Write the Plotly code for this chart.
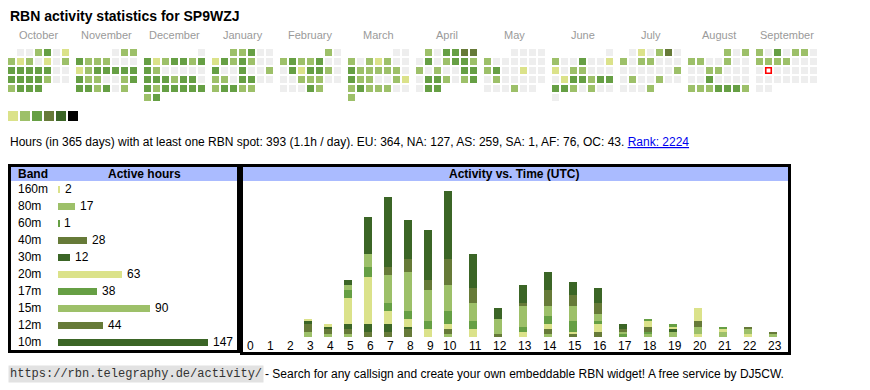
import datetime as dt
import plotly.graph_objects as go

W, H = 870, 390
FONT = "Liberation Sans, Arial, sans-serif"

# ---------------- data ----------------
TITLE = "RBN activity statistics for SP9WZJ"

MONTH_NAMES = ["October", "November", "December", "January", "February", "March",
               "April", "May", "June", "July", "August", "September"]
MONTH_YM = [(2024, 10), (2024, 11), (2024, 12), (2025, 1), (2025, 2), (2025, 3),
            (2025, 4), (2025, 5), (2025, 6), (2025, 7), (2025, 8), (2025, 9)]
# activity level per day (0 = none, 1..5 = palette level), day 1 .. last day
DAY_LEVELS = [
    "0023012120102333330033332002333",   # Oct
    "022322200012333333220023332302",    # Nov
    "0312332332000003332330323333323",   # Dec
    "2230013232003003002220330023322",   # Jan
    "2023223000313320002220000032",      # Feb
    "0020212003222220322002123222002",   # Mar
    "203344030233220200330332023033",    # Apr
    "0000200000023001000200000000200",   # May
    "020030011022000013323333202000",    # Jun
    "0102402022000000000202002000002",   # Jul
    "2022200200002200000300002223332",   # Aug
    "203022022220000000000000000000",    # Sep
]
TODAY = dt.date(2025, 9, 16)
LEVEL_COLORS = ["#eeeeee", "#dbe28a", "#9dc069", "#669f44", "#667a38", "#3b6526", "#000000"]

SUMMARY = ("Hours (in 365 days) with at least one RBN spot: 393 (1.1h / day). "
           "EU: 364, NA: 127, AS: 259, SA: 1, AF: 76, OC: 43. ")
RANK = "Rank: 2224"

BANDS = ["160m", "80m", "60m", "40m", "30m", "20m", "17m", "15m", "12m", "10m"]
BAND_HOURS = [2, 17, 1, 28, 12, 63, 38, 90, 44, 147]
BAND_COLORS = ["#dbe28a", "#9dc069", "#669f44", "#667a38", "#3b6526",
               "#dbe28a", "#669f44", "#9dc069", "#667a38", "#3b6526"]

HOURS = list(range(24))
ACT_160M = [0, 0, 0, 0, 0, 0, 0, 0, 0, 0, 0, 0, 0, 0, 0, 0, 0, 0, 0, 0, 1, 0, 1, 0]
ACT_80M = [0, 0, 0, 2, 1, 1, 0, 0, 0, 0, 1, 0, 0, 0, 1, 0, 0, 0, 1, 2, 3, 2, 2, 1]
ACT_60M = [0, 0, 0, 0, 0, 0, 0, 0, 0, 0, 0, 0, 0, 0, 0, 0, 0, 0, 1, 0, 0, 0, 0, 0]
ACT_40M = [0, 0, 0, 3, 2, 2, 2, 2, 3, 0, 2, 0, 1, 0, 2, 1, 2, 0, 2, 0, 2, 0, 1, 1]
ACT_30M = [0, 0, 0, 1, 1, 2, 3, 3, 1, 0, 0, 0, 0, 0, 0, 0, 0, 0, 0, 1, 0, 0, 0, 0]
ACT_20M = [0, 0, 0, 1, 1, 10, 18, 5, 3, 3, 2, 3, 0, 2, 2, 1, 3, 0, 2, 1, 5, 1, 0, 0]
ACT_17M = [0, 0, 0, 0, 0, 3, 4, 3, 3, 3, 5, 3, 0, 2, 3, 4, 1, 1, 1, 1, 0, 1, 0, 0]
ACT_15M = [0, 0, 0, 0, 0, 2, 5, 11, 15, 12, 10, 7, 6, 8, 4, 6, 3, 1, 0, 0, 0, 0, 0, 0]
ACT_12M = [0, 0, 0, 0, 0, 0, 0, 3, 5, 4, 10, 6, 0, 1, 6, 4, 4, 1, 0, 0, 0, 0, 0, 0]
ACT_10M = [0, 0, 0, 0, 0, 2, 14, 27, 15, 19, 26, 13, 4, 7, 7, 5, 6, 2, 0, 0, 0, 0, 0, 0]
ACTIVITY = [ACT_160M, ACT_80M, ACT_60M, ACT_40M, ACT_30M,
            ACT_20M, ACT_17M, ACT_15M, ACT_12M, ACT_10M]

FOOTER_URL = "https://rbn.telegraphy.de/activity/"
FOOTER_TEXT = "- Search for any callsign and create your own embeddable RBN widget! A free service by DJ5CW."

# ---------------- layout helpers ----------------
CAL_X0, CAL_Y0, CELL, PITCH, MONTH_PITCH = 8, 49, 7, 9, 68


def fx(px):
    return px / W


def fy(py):
    return 1 - py / H


fig = go.Figure()

# ---------------- calendar ----------------
cx, cy, cc = [], [], []
tx, ty = [], []
for m, ((yr, mo), levels) in enumerate(zip(MONTH_YM, DAY_LEVELS)):
    first = dt.date(yr, mo, 1)
    off = first.weekday()
    for i, ch in enumerate(levels):
        pos = i + off
        row, col = pos // 7, pos % 7
        x = CAL_X0 + m * MONTH_PITCH + col * PITCH + CELL / 2
        y = CAL_Y0 + row * PITCH + CELL / 2
        d = first + dt.timedelta(days=i)
        if d == TODAY:
            tx.append(x)
            ty.append(y)
            continue
        cx.append(x)
        cy.append(y)
        cc.append(LEVEL_COLORS[int(ch)])

fig.add_trace(go.Scatter(x=cx, y=cy, mode="markers", xaxis="x", yaxis="y",
                         marker=dict(symbol="square", size=CELL, color=cc, line=dict(width=0)),
                         hoverinfo="skip", showlegend=False))
fig.add_trace(go.Scatter(x=tx, y=ty, mode="markers", xaxis="x", yaxis="y",
                         marker=dict(symbol="square", size=CELL - 1.5, color="#ffffff",
                                     line=dict(width=1.6, color="#ff0000")),
                         hoverinfo="skip", showlegend=False))

# palette legend
lg = LEVEL_COLORS[1:]
fig.add_trace(go.Scatter(x=[8 + 5 + 12 * i for i in range(len(lg))], y=[116] * len(lg),
                         mode="markers", xaxis="x", yaxis="y",
                         marker=dict(symbol="square", size=10, color=lg, line=dict(width=0)),
                         hoverinfo="skip", showlegend=False))

annotations = []
annotations.append(dict(x=8, y=15.5, xref="x", yref="y", text="<b>" + TITLE + "</b>",
                        showarrow=False, xanchor="left", yanchor="middle",
                        font=dict(size=14, color="#000000", family=FONT)))
for m, name in enumerate(MONTH_NAMES):
    annotations.append(dict(x=CAL_X0 + m * MONTH_PITCH + (6 * PITCH + CELL) / 2, y=35,
                            xref="x", yref="y", text=name, showarrow=False,
                            xanchor="center", yanchor="middle",
                            font=dict(size=11, color="#9a9a9a", family=FONT)))

annotations.append(dict(x=8, y=142, xref="x", yref="y",
                        text=SUMMARY + '<a href="https://rbn.telegraphy.de/activity/SP9WZJ">'
                             '<span style="color:#0000ee;text-decoration:underline">' + RANK + '</span></a>',
                        showarrow=False, xanchor="left", yanchor="middle",
                        font=dict(size=12, color="#000000", family=FONT)))

# ---------------- band table ----------------
fig.add_trace(go.Bar(x=BAND_HOURS, y=list(range(len(BANDS))), orientation="h",
                     xaxis="x2", yaxis="y2", width=7 / 17,
                     marker=dict(color=BAND_COLORS, line=dict(width=0)),
                     hoverinfo="skip", showlegend=False))
for i, (b, v) in enumerate(zip(BANDS, BAND_HOURS)):
    annotations.append(dict(x=16, y=189 + 17 * i, xref="x", yref="y", text=b,
                            showarrow=False, xanchor="left", yanchor="middle",
                            font=dict(size=12, color="#000000", family=FONT)))
    annotations.append(dict(x=v, y=i, xref="x2", yref="y2", text=str(v), xshift=3,
                            showarrow=False, xanchor="left", yanchor="middle",
                            font=dict(size=12, color="#000000", family=FONT)))
annotations.append(dict(x=16, y=174, xref="x", yref="y", text="<b>Band</b>", showarrow=False,
                        xanchor="left", yanchor="middle", font=dict(size=12, color="#000000", family=FONT)))
annotations.append(dict(x=144, y=174, xref="x", yref="y", text="<b>Active hours</b>", showarrow=False,
                        xanchor="center", yanchor="middle", font=dict(size=12, color="#000000", family=FONT)))

# ---------------- activity vs time ----------------
hour_x = [248 + 20 * min(h, 10) + 25 * max(h - 10, 0) for h in HOURS]
for band, col, vals in zip(BANDS, BAND_COLORS, ACTIVITY):
    fig.add_trace(go.Bar(x=hour_x, y=vals, width=8, xaxis="x3", yaxis="y3",
                         marker=dict(color=col, line=dict(width=0)), name=band,
                         hoverinfo="skip", showlegend=False))
for h in HOURS:
    annotations.append(dict(x=hour_x[h] + 2, y=346, xref="x", yref="y", text=str(h),
                            showarrow=False, xanchor="center", yanchor="middle",
                            font=dict(size=12, color="#000000", family=FONT)))
annotations.append(dict(x=514, y=174, xref="x", yref="y", text="<b>Activity vs. Time (UTC)</b>",
                        showarrow=False, xanchor="center", yanchor="middle",
                        font=dict(size=12, color="#000000", family=FONT)))

# ---------------- footer ----------------
annotations.append(dict(x=8, y=374, xref="x", yref="y", text=FOOTER_URL, showarrow=False,
                        xanchor="left", yanchor="middle", bgcolor="#e2e2e2", borderpad=1,
                        font=dict(size=12, color="#333333", family="Liberation Mono, monospace")))
annotations.append(dict(x=263, y=374, xref="x", yref="y", text=FOOTER_TEXT, showarrow=False,
                        xanchor="left", yanchor="middle",
                        font=dict(size=12, color="#000000", family=FONT)))

shapes = [
    dict(type="rect", xref="x", yref="y", x0=11, x1=237, y0=167, y1=181,
         fillcolor="#aabbff", line=dict(width=0), layer="below"),
    dict(type="rect", xref="x", yref="y", x0=243, x1=788, y0=167, y1=181,
         fillcolor="#aabbff", line=dict(width=0), layer="below"),
    dict(type="rect", xref="x", yref="y", x0=9.5, x1=238.5, y0=165.5, y1=351.5,
         line=dict(width=3, color="#000000"), layer="above"),
    dict(type="rect", xref="x", yref="y", x0=241.5, x1=789.5, y0=165.5, y1=353.5,
         line=dict(width=3, color="#000000"), layer="above"),
]

hidden = dict(showgrid=False, zeroline=False, showticklabels=False, ticks="",
              showline=False, fixedrange=True)
fig.update_layout(
    width=W, height=H, margin=dict(l=0, r=0, t=0, b=0),
    paper_bgcolor="#ffffff", plot_bgcolor="rgba(0,0,0,0)",
    font=dict(family=FONT, size=12, color="#000000"),
    barmode="stack", bargap=0, showlegend=False,
    xaxis=dict(domain=[0, 1], range=[0, W], **hidden),
    yaxis=dict(domain=[0, 1], range=[H, 0], **hidden),
    xaxis2=dict(domain=[fx(58), fx(237)], range=[0, (237 - 58) * 147 / 150], anchor="y2", **hidden),
    yaxis2=dict(domain=[fy(350.5), fy(180.5)], range=[9.5, -0.5], anchor="x2", **hidden),
    xaxis3=dict(domain=[fx(243), fx(788)], range=[243, 788], anchor="y3", **hidden),
    yaxis3=dict(domain=[fy(337), fy(183)], range=[0, (337 - 183) / 2.6], anchor="x3", **hidden),
    annotations=annotations,
    shapes=shapes,
)

fig.write_html("out.html", config={"displayModeBar": False},
               post_script="document.body.style.margin='0';document.body.style.overflow='hidden';")
